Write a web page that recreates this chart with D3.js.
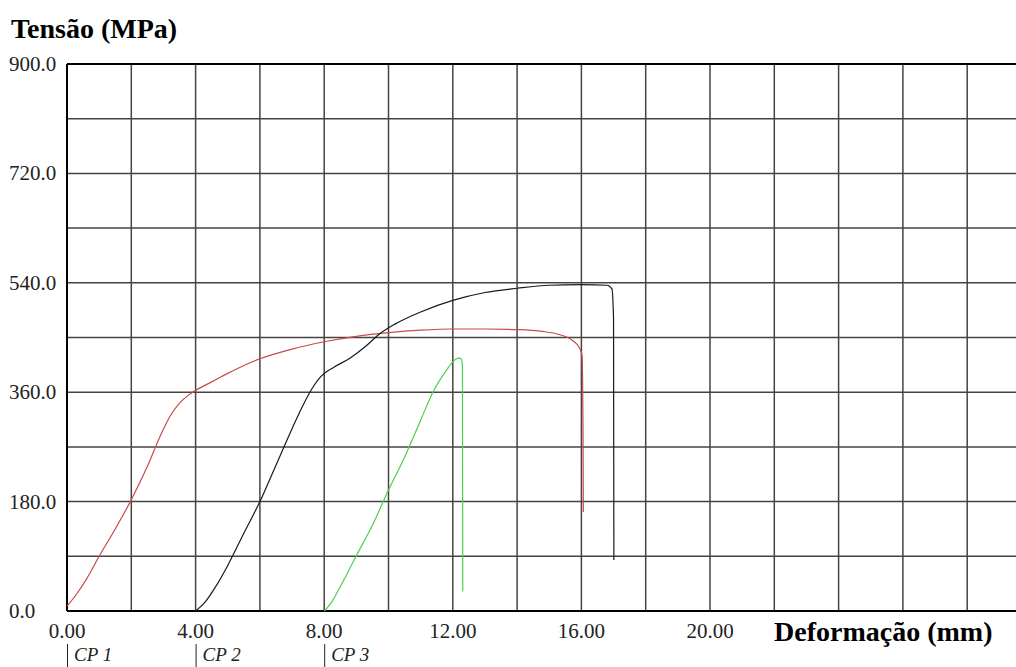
<!DOCTYPE html>
<html><head><meta charset="utf-8">
<script src="https://cdn.jsdelivr.net/npm/d3@7"></script>
<style>html,body{margin:0;padding:0;background:#fff;}svg{display:block;}</style>
</head><body><svg id="c" width="1016" height="667"></svg>
<script>
const yTicks = [0, 180, 360, 540, 720, 900];
const xTicks = [0, 4, 8, 12, 16, 20];
const specimens = ["CP 1", "CP 2", "CP 3"];
const specimenStarts = [0, 4, 8];
const cp1 = [[0,8],[0.3,28],[0.6,52],[1.0,90],[1.5,135],[2.0,183],[2.5,238],[2.9,288],[3.2,320],[3.5,342],[3.8,356],[4.0,363],[4.5,377],[5.0,391],[5.5,404],[6.0,415],[7.0,431],[8.0,443],[9.0,452],[10.0,458],[11.0,462],[12.0,464],[13.0,464],[14.0,463],[14.8,460],[15.3,455],[15.7,446],[15.95,432],[16.02,420],[16.05,300],[16.06,163]];
const cp2 = [[4.0,0],[4.3,15],[4.6,38],[5.0,75],[5.5,128],[6.0,180],[6.5,240],[7.0,300],[7.3,334],[7.6,364],[7.9,386],[8.3,401],[8.8,416],[9.3,436],[9.7,455],[10.2,472],[11.0,492],[12.0,511],[13.0,524],[14.0,531],[15.0,536],[16.0,537],[16.8,536],[16.95,530],[17.0,480],[17.01,84]];
const cp3 = [[8.0,0],[8.2,12],[8.5,40],[9.0,91],[9.5,141],[10.0,199],[10.5,253],[11.0,314],[11.4,362],[11.8,396],[12.0,410],[12.17,416],[12.26,415],[12.3,405],[12.31,32]];

const svg = d3.select("#c");
const x = d3.scaleLinear().domain([0, 30]).range([67, 1031.5]);
const y = d3.scaleLinear().domain([0, 900]).range([611, 64]);
const serif = "'Liberation Serif','Times New Roman',serif";

// grid
const g = svg.append("g");
g.selectAll("line.v").data(d3.range(2, 30, 2)).join("line")
  .attr("x1", d => x(d)).attr("x2", d => x(d)).attr("y1", y(900)).attr("y2", y(0))
  .attr("stroke", "#444").attr("stroke-width", 1.5);
g.selectAll("line.h").data(d3.range(90, 900, 90)).join("line")
  .attr("x1", x(0)).attr("x2", 1016).attr("y1", d => y(d)).attr("y2", d => y(d))
  .attr("stroke", "#444").attr("stroke-width", 1.5);
// frame
svg.append("line").attr("x1", x(0)).attr("x2", 1016).attr("y1", y(900)).attr("y2", y(900)).attr("stroke", "#000").attr("stroke-width", 2);
svg.append("line").attr("x1", x(0)).attr("x2", 1016).attr("y1", y(0)).attr("y2", y(0)).attr("stroke", "#000").attr("stroke-width", 2);
svg.append("line").attr("x1", x(0)).attr("x2", x(0)).attr("y1", y(900)).attr("y2", y(0)).attr("stroke", "#000").attr("stroke-width", 2);

// curves
const line = d3.line().x(d => x(d[0])).y(d => y(d[1])).curve(d3.curveMonotoneX);
[[cp1, "#c94a4a"], [cp2, "#1a1a1a"], [cp3, "#4fcf4f"]].forEach(([d, c]) => {
  svg.append("path").attr("d", line(d)).attr("fill", "none").attr("stroke", c).attr("stroke-width", 1.2);
});

// y tick labels
svg.selectAll("text.yt").data(yTicks).join("text")
  .attr("x", 9).attr("y", d => y(d) + 7)
  .attr("font-family", serif).attr("font-size", 21).attr("fill", "#222")
  .text(d => d.toFixed(1));
// x tick labels
svg.selectAll("text.xt").data(xTicks).join("text")
  .attr("x", d => x(d)).attr("y", 638).attr("text-anchor", "middle")
  .attr("font-family", serif).attr("font-size", 21).attr("fill", "#222")
  .text(d => d.toFixed(2));
// specimen markers
specimens.forEach((s, i) => {
  const px = x(specimenStarts[i]);
  svg.append("line").attr("x1", px + 0.5).attr("x2", px + 0.5).attr("y1", 644).attr("y2", 667).attr("stroke", "#222").attr("stroke-width", 1);
  svg.append("text").attr("x", px + 7).attr("y", 661)
    .attr("font-family", serif).attr("font-style", "italic").attr("font-size", 19).attr("fill", "#222").text(s);
});
// axis titles
svg.append("text").attr("x", 11).attr("y", 38).attr("font-family", serif).attr("font-weight", "bold").attr("font-size", 28).attr("fill", "#000").text("Tensão (MPa)");
svg.append("text").attr("x", 774).attr("y", 641).attr("font-family", serif).attr("font-weight", "bold").attr("font-size", 28).attr("fill", "#000").text("Deformação (mm)");
</script></body></html>
